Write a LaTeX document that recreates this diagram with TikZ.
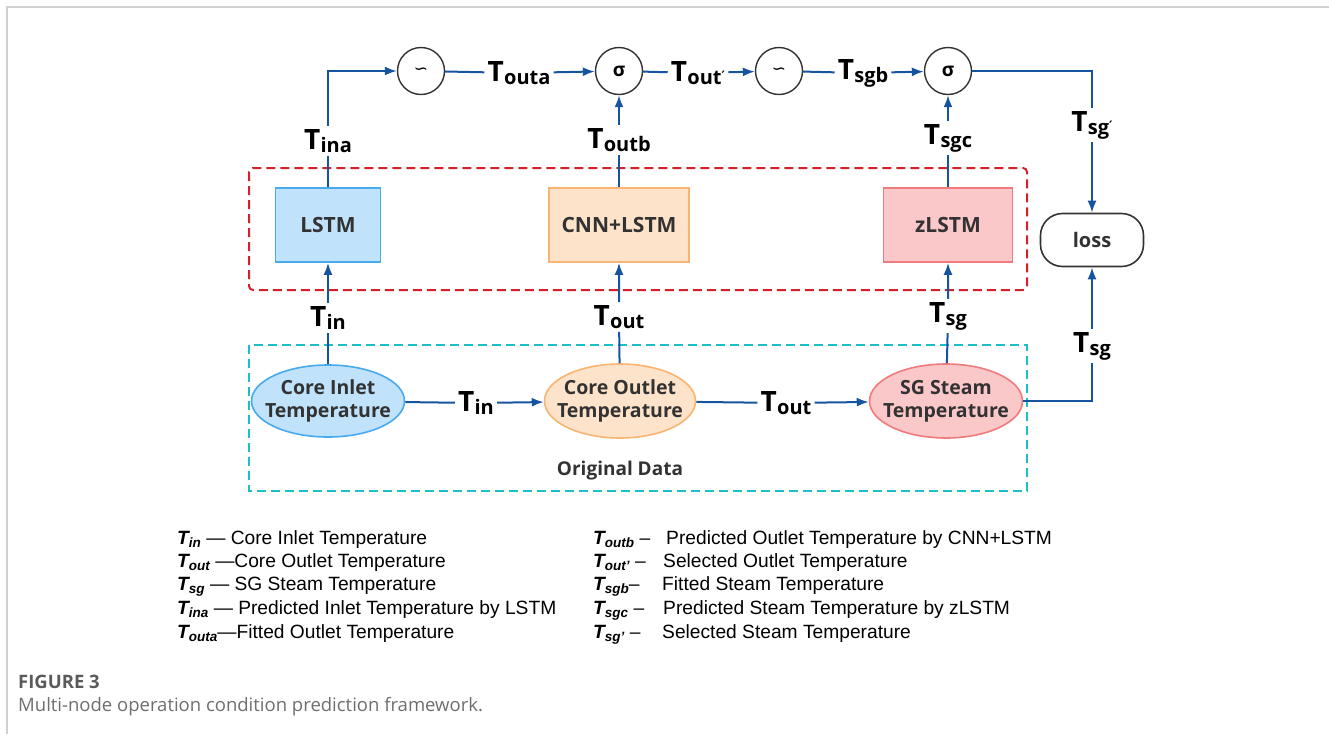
\documentclass[tikz,border=0pt]{standalone}
\usepackage{fontspec}
\setmainfont{Liberation Sans}
\newfontfamily\diagfont{Open Sans}
\newfontfamily\symfont{DejaVu Sans}
\usetikzlibrary{arrows.meta,shapes.geometric,calc}

\definecolor{flow}{RGB}{22,84,160}
\definecolor{redline}{RGB}{212,32,40}
\definecolor{cyanline}{RGB}{30,190,200}
\definecolor{bluefill}{RGB}{192,226,250}
\definecolor{bluedraw}{RGB}{72,170,236}
\definecolor{orangefill}{RGB}{253,227,202}
\definecolor{orangedraw}{RGB}{248,180,112}
\definecolor{pinkfill}{RGB}{251,200,202}
\definecolor{pinkdraw}{RGB}{240,122,124}
\definecolor{nodetext}{RGB}{50,50,50}
\definecolor{framegray}{RGB}{208,208,208}
\definecolor{capgray}{RGB}{90,90,90}
\definecolor{capgraylight}{RGB}{110,110,110}

% signal label: big T with a bold subscript
\newcommand\sig[1]{{\fontsize{28}{28}\selectfont T}\kern0.3pt\raisebox{-3pt}{\fontsize{20}{20}\selectfont #1}}
\newcommand\dprime{{\symfont\bfseries\fontsize{13}{13}\selectfont\raisebox{4pt}{′}}}
% legend symbol: bold italic T with subscript
\newcommand\lsym[1]{{\bfseries\itshape T\raisebox{-3pt}{\fontsize{13.5}{13.5}\selectfont #1}}}

\begin{document}
\begin{tikzpicture}[x=1pt,y=-1pt,
  conn/.style={draw=flow,line width=2pt},
  arr/.style={conn,-{Latex[length=12pt,width=9pt]}},
  siglabel/.style={inner sep=3pt,font=\diagfont\bfseries,text=black},
  modelbox/.style={draw,line width=1.6pt,minimum width=105pt,minimum height=74pt,
    font=\diagfont\bfseries\fontsize{21}{21}\selectfont,text=nodetext},
  datanode/.style={ellipse,draw,line width=1.6pt,minimum width=153pt,minimum height=72pt,inner sep=0pt},
  datatext/.style={align=center,inner sep=0pt,font=\diagfont\bfseries\fontsize{19.5}{23}\selectfont,text=nodetext},
  opnode/.style={circle,draw=black!80,line width=1.4pt,minimum size=47pt,inner sep=0pt},
  legend/.style={anchor=base west,inner sep=0pt,font=\fontsize{19.2}{19.2}\selectfont},
]
\useasboundingbox (0,0) rectangle (1329,734);

% page frame
\draw[framegray,line width=1.5pt] (7,734) -- (7,7) -- (1329,7);

% group frames
\draw[redline,line width=2pt,dash pattern=on 9pt off 5pt,rounded corners=4pt]
  (249,168) rectangle (1027,290);
\draw[cyanline,line width=2pt,dash pattern=on 9pt off 5pt]
  (249,345) rectangle (1027,491);
\node[font=\diagfont\bfseries\fontsize{19}{19}\selectfont,text=nodetext] (orig) at (620,471) {Original Data};

% operator circles
\node[opnode] (c1) at (421,71) {\symfont\fontsize{17}{17}\selectfont ∽};
\node[opnode] (s1) at (619,71) {\diagfont\bfseries\fontsize{19}{19}\selectfont σ};
\node[opnode] (c2) at (779,71) {\symfont\fontsize{17}{17}\selectfont ∽};
\node[opnode] (s2) at (948,71) {\diagfont\bfseries\fontsize{19}{19}\selectfont σ};

% models
\node[modelbox,fill=bluefill,draw=bluedraw] (lstm) at (328,225) {LSTM};
\node[modelbox,fill=orangefill,draw=orangedraw,minimum width=140pt] (cnn) at (619,225) {CNN+LSTM};
\node[modelbox,fill=pinkfill,draw=pinkdraw,minimum width=129pt] (zl) at (948,225) {zLSTM};
\node[draw=black!80,line width=1.6pt,rounded corners=22pt,minimum width=103pt,minimum height=53pt,
  font=\diagfont\bfseries\fontsize{20}{20}\selectfont,text=nodetext] (loss) at (1092,240) {loss};

% original data
\node[datanode,fill=bluefill,draw=bluedraw,
  label={[datatext]center:Core Inlet\\Temperature}] (ci) at (328,401) {};
\node[datanode,fill=orangefill,draw=orangedraw,minimum width=151pt,minimum height=74pt,
  label={[datatext]center:Core Outlet\\Temperature}] (co) at (620,401) {};
\node[datanode,fill=pinkfill,draw=pinkdraw,minimum height=74pt,
  label={[datatext]center:SG Steam\\Temperature}] (sg) at (946,401) {};

% signal labels
\node[siglabel] (tina) at (328,141) {\sig{ina}};
\node[siglabel] (touta) at (519,73) {\sig{outa}};
\node[siglabel] (toutb) at (619,140) {\sig{outb}};
\node[siglabel] (toutp) at (698,73) {\sig{out\dprime}};
\node[siglabel] (tsgb) at (863,73) {\sig{sgb}};
\node[siglabel] (tsgc) at (948,138) {\sig{sgc}};
\node[siglabel] (tsgp) at (1092,125) {\sig{sg\dprime}};
\node[siglabel] (tin1) at (328,318) {\sig{in}};
\node[siglabel] (tout1) at (619,317) {\sig{out}};
\node[siglabel] (tsg1) at (948,316) {\sig{sg}};
\node[siglabel] (tsg2) at (1092,346) {\sig{sg}};
\node[siglabel] (tin2) at (476,403) {\sig{in}};
\node[siglabel] (tout2) at (786,403) {\sig{out}};

% connectors, top row
\draw[arr] (lstm) -- (tina) -- (tina |- c1) -- (c1);
\draw[arr] (c1) -- (touta) -- (s1);
\draw[arr] (cnn) -- (toutb) -- (s1);
\draw[arr] (s1) -- (toutp) -- (c2);
\draw[arr] (c2) -- (tsgb) -- (s2);
\draw[arr] (zl) -- (tsgc) -- (s2);
\draw[arr] (s2) -- (s2 -| tsgp) -- (tsgp) -- (loss);

% connectors, data to models
\draw[arr] (ci) -- (tin1) -- (lstm);
\draw[arr] (co) -- (tout1) -- (cnn);
\draw[arr] (sg) -- (tsg1) -- (zl);
\draw[arr] (sg) -- (sg -| tsg2) -- (tsg2) -- (loss);
\draw[arr] (ci) -- (tin2) -- (co);
\draw[arr] (co) -- (tout2) -- (sg);

% legend, left column
\node[legend] (l1) at (177,544) {\lsym{in} — Core Inlet Temperature};
\node[legend] (l2) at (177,567) {\lsym{out} —Core Outlet Temperature};
\node[legend] (l3) at (177,590) {\lsym{sg} — SG Steam Temperature};
\node[legend] (l4) at (177,614) {\lsym{ina} — Predicted Inlet Temperature by LSTM};
\node[legend] (l5) at (177,638) {\lsym{outa}—Fitted Outlet Temperature};

% legend, right column
\node[legend] (r1s) at (593,544) {\lsym{outb} –};
\node[legend] (r1) at (666,544) {Predicted Outlet Temperature by CNN+LSTM};
\node[legend] (r2s) at (593,567) {\lsym{out\textquoteright} –};
\node[legend] (r2) at (663,567) {Selected Outlet Temperature};
\node[legend] (r3s) at (593,590) {\lsym{sgb}–};
\node[legend] (r3) at (662,590) {Fitted Steam Temperature};
\node[legend] (r4s) at (593,614) {\lsym{sgc} –};
\node[legend] (r4) at (663,614) {Predicted Steam Temperature by zLSTM};
\node[legend] (r5s) at (593,638) {\lsym{sg\textquoteright} –};
\node[legend] (r5) at (662,638) {Selected Steam Temperature};

% caption
\node[anchor=base west,inner sep=0pt,text=capgray,font=\diagfont\bfseries\fontsize{18.5}{18.5}\selectfont] (capt) at (18,688) {FIGURE 3};
\node[anchor=base west,inner sep=0pt,text=capgraylight,font=\diagfont\fontsize{18.5}{18.5}\selectfont] (capl) at (18,711) {Multi-node operation condition prediction framework.};
\end{tikzpicture}
\end{document}
